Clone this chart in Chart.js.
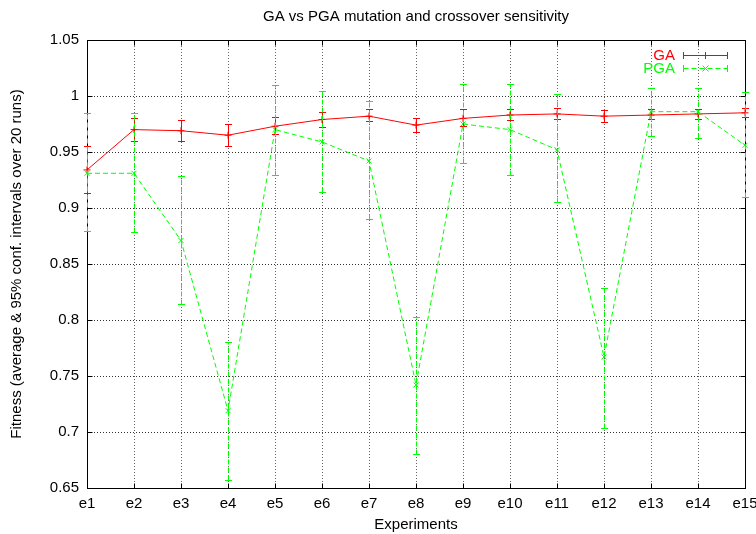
<!DOCTYPE html>
<html>
<head>
<meta charset="utf-8">
<script src="https://cdn.jsdelivr.net/npm/chart.js@4.4.1/dist/chart.umd.min.js"></script>
<style>
  body { margin: 0; background: #fff; }
  #wrap { width: 756px; height: 534px; }
</style>
</head>
<body>
<div id="wrap"><canvas id="fitness" width="756" height="534"></canvas></div>
<script>
// data
const experiments = ["e1", "e2", "e3", "e4", "e5", "e6", "e7", "e8", "e9", "e10", "e11", "e12", "e13", "e14", "e15"];

const gaMean = [0.934, 0.970, 0.969, 0.965, 0.973, 0.979, 0.982, 0.974, 0.980, 0.983, 0.984, 0.982, 0.983, 0.984, 0.985];
const gaLow  = [0.913, 0.959, 0.959, 0.955, 0.966, 0.972, 0.977, 0.967, 0.973, 0.978, 0.979, 0.976, 0.979, 0.979, 0.981];
const gaHigh = [0.955, 0.980, 0.978, 0.975, 0.981, 0.985, 0.988, 0.980, 0.988, 0.988, 0.989, 0.987, 0.988, 0.988, 0.989];

const pgaMean = [0.931, 0.931, 0.871, 0.719, 0.970, 0.959, 0.942, 0.742, 0.975, 0.970, 0.952, 0.767, 0.986, 0.986, 0.956];
const pgaLow  = [0.879, 0.878, 0.814, 0.657, 0.929, 0.914, 0.890, 0.680, 0.940, 0.929, 0.905, 0.703, 0.964, 0.962, 0.909];
const pgaHigh = [0.984, 0.984, 0.928, 0.780, 1.009, 1.004, 0.995, 0.802, 1.010, 1.010, 1.001, 0.828, 1.007, 1.007, 1.003];

const yMin = 0.65;
const yMax = 1.05;
const yStep = 0.05;

Chart.defaults.font.family = "'Liberation Sans', Arial, sans-serif";
Chart.defaults.font.size = 15;
Chart.defaults.color = "#000";

// same snapping as chart.js uses for 1px grid lines
const align = (p) => Math.round(p - 0.5) + 0.5;

// BEGIN: ERROR BARS
const errorBars = {
  id: "errorBars",
  afterDatasetsDraw(chart) {
    const ctx = chart.ctx;
    const yScale = chart.scales.y;
    chart.data.datasets.forEach((ds, di) => {
      const meta = chart.getDatasetMeta(di);
      ctx.save();
      ctx.strokeStyle = ds.borderColor;
      ctx.lineWidth = 1;
      meta.data.forEach((pt, i) => {
        const x = align(pt.x);
        const yLo = align(yScale.getPixelForValue(ds.errLow[i]));
        const yHi = align(yScale.getPixelForValue(ds.errHigh[i]));
        ctx.setLineDash(ds.borderDash || []);
        ctx.beginPath();
        ctx.moveTo(x, yLo);
        ctx.lineTo(x, yHi);
        ctx.stroke();
        ctx.setLineDash([]);
        ctx.beginPath();
        ctx.moveTo(x - 3.5, yLo);
        ctx.lineTo(x + 3.5, yLo);
        ctx.moveTo(x - 3.5, yHi);
        ctx.lineTo(x + 3.5, yHi);
        ctx.stroke();
      });
      ctx.restore();
    });
  },
};
// END: ERROR BARS

// BEGIN: FRAME AND INNER TICKS (gnuplot look)
const frame = {
  id: "frame",
  beforeDatasetsDraw(chart) {
    const ctx = chart.ctx;
    const { left, right, top, bottom } = chart.chartArea;
    const xs = chart.scales.x;
    const ys = chart.scales.y;
    const L = align(left), R = align(right);
    const T = align(top), B = align(bottom);

    ctx.save();
    ctx.strokeStyle = "#000";
    ctx.lineWidth = 1;
    ctx.beginPath();
    xs.ticks.forEach((t, i) => {
      const x = align(xs.getPixelForTick(i));
      ctx.moveTo(x, T); ctx.lineTo(x, T + 5);
      ctx.moveTo(x, B); ctx.lineTo(x, B - 5);
    });
    ys.ticks.forEach((t, i) => {
      const y = align(ys.getPixelForTick(i));
      ctx.moveTo(L, y); ctx.lineTo(L + 5, y);
      ctx.moveTo(R, y); ctx.lineTo(R - 5, y);
    });
    ctx.stroke();
    ctx.strokeRect(L, T, R - L, B - T);
    ctx.restore();
  },
};
// END: FRAME AND INNER TICKS

// BEGIN: KEY
const key = {
  id: "key",
  afterDraw(chart) {
    const ctx = chart.ctx;
    const { right, top } = chart.chartArea;
    ctx.save();
    ctx.lineWidth = 1;
    ctx.font = "15px 'Liberation Sans', Arial, sans-serif";
    ctx.textAlign = "right";
    ctx.textBaseline = "middle";
    chart.data.datasets.forEach((ds, di) => {
      const y = align(top + 15 + di * 13);
      const x0 = align(right - 62);
      const x1 = align(right - 18);
      const xm = align((x0 + x1) / 2);
      ctx.fillStyle = ds.borderColor;
      ctx.fillText(ds.label, right - 70, y);
      ctx.strokeStyle = ds.borderColor;
      ctx.setLineDash(ds.borderDash || []);
      ctx.beginPath();
      ctx.moveTo(x0, y); ctx.lineTo(x1, y);
      ctx.stroke();
      ctx.setLineDash([]);
      ctx.beginPath();
      ctx.moveTo(x0, y - 3.5); ctx.lineTo(x0, y + 3.5);
      ctx.moveTo(x1, y - 3.5); ctx.lineTo(x1, y + 3.5);
      if (ds.pointStyle === "cross") {
        ctx.moveTo(xm, y - 3.5); ctx.lineTo(xm, y + 3.5);
      } else {
        ctx.moveTo(xm - 3, y - 3); ctx.lineTo(xm + 3, y + 3);
        ctx.moveTo(xm - 3, y + 3); ctx.lineTo(xm + 3, y - 3);
      }
      ctx.stroke();
    });
    ctx.restore();
  },
};
// END: KEY

new Chart(document.getElementById("fitness"), {
  type: "line",
  data: {
    labels: experiments,
    datasets: [
      {
        label: "GA",
        data: gaMean,
        errLow: gaLow,
        errHigh: gaHigh,
        borderColor: "#ff0000",
        backgroundColor: "#ff0000",
        borderWidth: 1,
        pointStyle: "cross",
        pointRadius: 3.5,
        pointBorderWidth: 1,
        tension: 0,
        fill: false,
        order: 1,
      },
      {
        label: "PGA",
        data: pgaMean,
        errLow: pgaLow,
        errHigh: pgaHigh,
        borderColor: "#00ff00",
        backgroundColor: "#00ff00",
        borderWidth: 1,
        borderDash: [5, 3],
        pointStyle: "crossRot",
        pointRadius: 3.5,
        pointBorderWidth: 1,
        tension: 0,
        fill: false,
        order: 0,
      },
    ],
  },
  options: {
    responsive: false,
    animation: false,
    layout: { padding: 0 },
    plugins: {
      legend: { display: false },
      tooltip: { enabled: false },
      title: {
        display: true,
        text: "GA vs PGA mutation and crossover sensitivity",
        fullSize: false,
        color: "#000",
        font: { size: 15, weight: "normal" },
        padding: { top: 8, bottom: 14 },
      },
    },
    scales: {
      x: {
        offset: false,
        grid: { color: "rgba(0,0,0,0.6)", drawTicks: false, offset: false },
        border: { color: "#000", width: 1, dash: [1, 2] },
        ticks: { padding: 7, maxRotation: 0, autoSkip: false },
        title: { display: true, text: "Experiments", padding: { top: 0, bottom: 0 } },
        afterFit(scale) {
          scale.height = 46;
          scale.paddingRight = 11;
          scale.paddingLeft = 0;
        },
      },
      y: {
        min: yMin,
        max: yMax,
        grid: { color: "rgba(0,0,0,0.8)", drawTicks: false },
        border: { color: "#000", width: 1, dash: [1, 2] },
        ticks: {
          stepSize: yStep,
          padding: 8,
          callback: (v) => String(+v.toFixed(2)),
        },
        title: {
          display: true,
          text: "Fitness (average & 95% conf. intervals over 20 runs)",
          padding: { top: 8, bottom: 0 },
        },
        afterFit(scale) {
          scale.width = 87;
        },
      },
    },
  },
  plugins: [frame, errorBars, key],
});
</script>
</body>
</html>
